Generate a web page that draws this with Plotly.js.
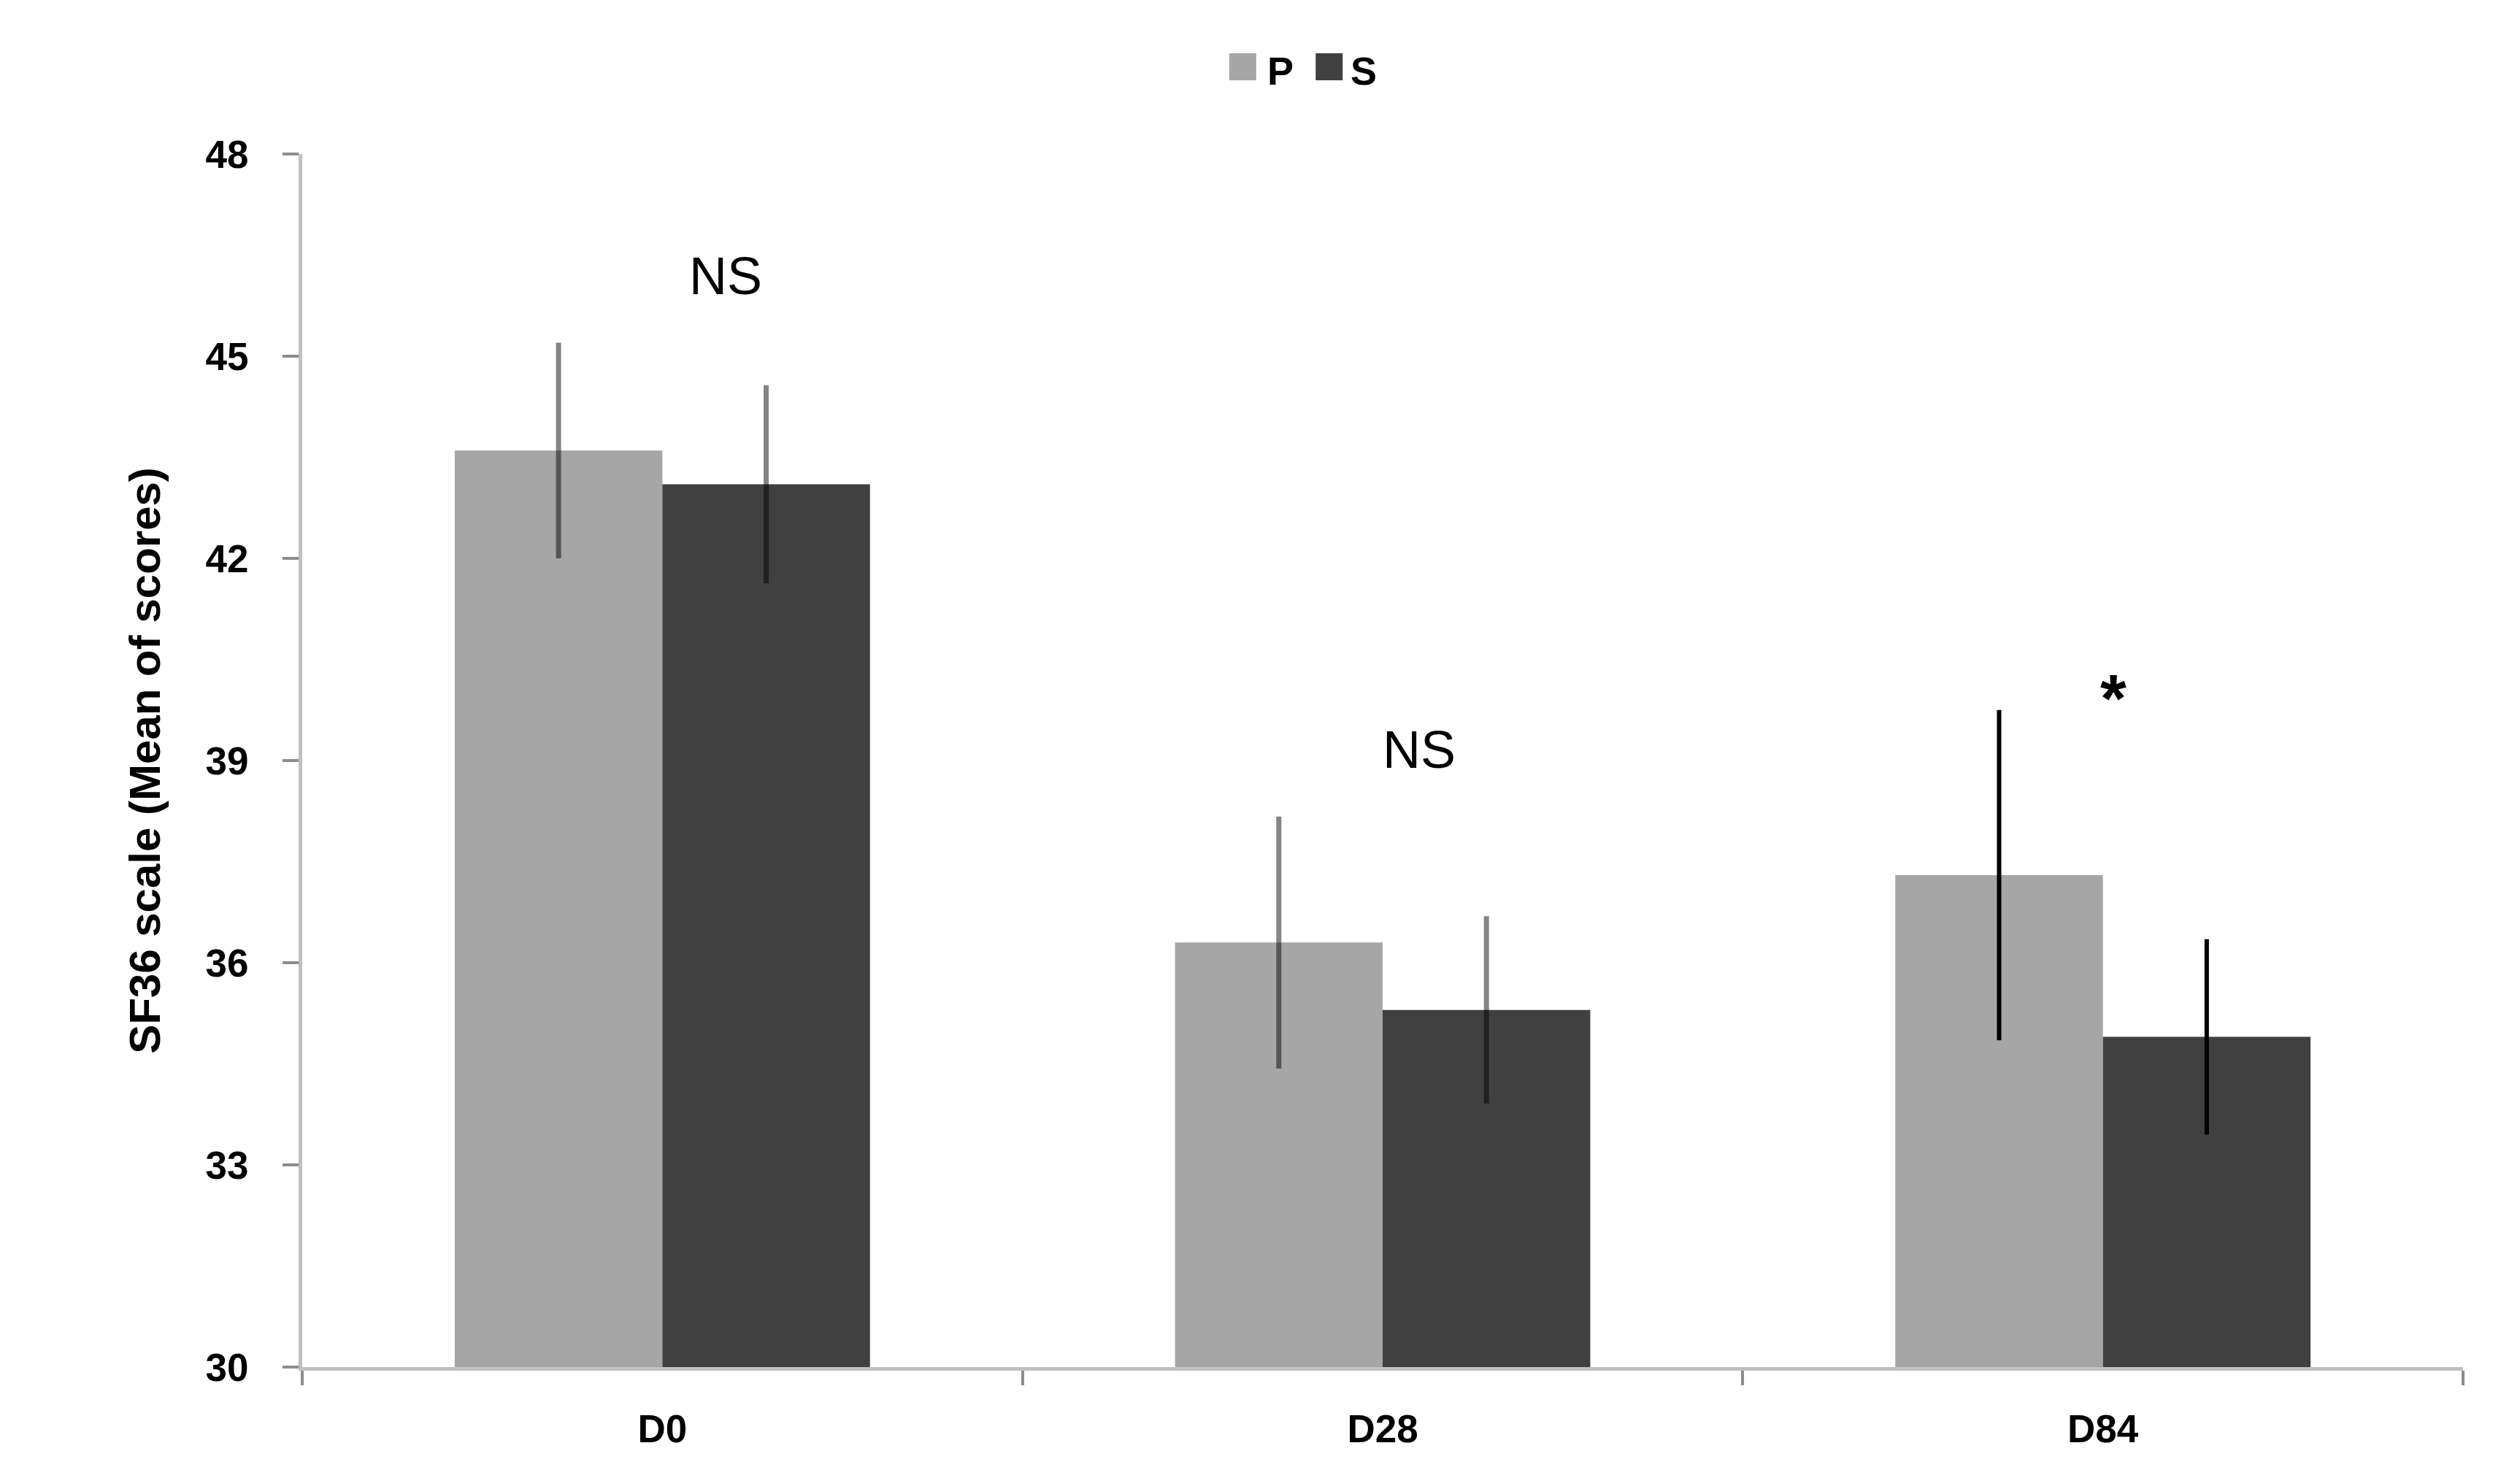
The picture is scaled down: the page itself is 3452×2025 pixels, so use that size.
<!DOCTYPE html>
<html>
<head>
<meta charset="utf-8">
<script src="https://cdn.plot.ly/plotly-3.0.1.min.js"></script>
<style>
  html, body { margin: 0; padding: 0; background: #fff; }
  #sf36_plot { width: 3452px; height: 2025px; }
</style>
</head>
<body>
<div id="sf36_plot"></div>
<script>
// SF36 scores, P vs S groups, by visit
var categories = ['D0', 'D28', 'D84'];
var pMeans = [43.6, 36.3, 37.3];
var sMeans = [43.1, 35.3, 34.9];
var pErr = [1.6, 1.87, 2.45];
var sErr = [1.47, 1.39, 1.45];
var sigLabels = ['NS', 'NS', '*'];
var seriesNames = ['P', 'S'];

var colP = '#a6a6a6';
var colS = '#404040';
var errGrey = 'rgba(0,0,0,0.48)';

// D84 has black error bars, the others are greyish: split them off
function upTo(arr, n) {
    return arr.map(function (v, i) { return i < n ? v : 0; });
}

function drawSF36() {
    var data = [];

    data.push({
        type: 'bar', name: seriesNames[0], x: categories, y: pMeans,
        offsetgroup: 'P', marker: { color: colP },
        error_y: { type: 'data', array: upTo(pErr, 2), width: 0, thickness: 7, color: errGrey },
        showlegend: false
    });
    data.push({
        type: 'bar', name: seriesNames[1], x: categories, y: sMeans,
        offsetgroup: 'S', marker: { color: colS },
        error_y: { type: 'data', array: upTo(sErr, 2), width: 0, thickness: 7, color: errGrey },
        showlegend: false
    });
    // overlay traces carrying the D84 error bars only
    data.push({
        type: 'bar', x: categories.slice(2), y: pMeans.slice(2),
        offsetgroup: 'P', marker: { color: 'rgba(0,0,0,0)' },
        error_y: { type: 'data', array: pErr.slice(2), width: 0, thickness: 6, color: '#000' },
        showlegend: false, hoverinfo: 'skip'
    });
    data.push({
        type: 'bar', x: categories.slice(2), y: sMeans.slice(2),
        offsetgroup: 'S', marker: { color: 'rgba(0,0,0,0)' },
        error_y: { type: 'data', array: sErr.slice(2), width: 0, thickness: 6, color: '#000' },
        showlegend: false, hoverinfo: 'skip'
    });

    var annotations = [];
    var xshifts = [87, 50, 14];
    for (var i = 0; i < categories.length; i++) {
        var top = Math.max(pMeans[i] + pErr[i], sMeans[i] + sErr[i]);
        var star = sigLabels[i] === '*';
        annotations.push({
            x: categories[i], y: top, xref: 'x', yref: 'y',
            text: sigLabels[i], showarrow: false,
            xanchor: 'center', yanchor: 'middle',
            xshift: xshifts[i], yshift: star ? 16 : 92,
            font: star ? { family: 'Liberation Sans, Arial, sans-serif', size: 92, color: '#000', weight: 'bold' }
                       : { family: 'Liberation Sans Narrow, Arial Narrow, sans-serif', size: 72, color: '#000' }
        });
    }

    // hand-made legend at the top, Excel style
    var shapes = [
        { type: 'rect', xref: 'paper', yref: 'paper', x0: 0.4290, x1: 0.4415, y0: 1.0608, y1: 1.0830,
          fillcolor: colP, line: { width: 0 } },
        { type: 'rect', xref: 'paper', yref: 'paper', x0: 0.4690, x1: 0.4815, y0: 1.0608, y1: 1.0830,
          fillcolor: colS, line: { width: 0 } }
    ];
    var legFont = { family: 'Liberation Sans Narrow, Arial Narrow, sans-serif', size: 54, color: '#000', weight: 'bold' };
    annotations.push({ xref: 'paper', yref: 'paper', x: 0.4528, y: 1.0685, text: seriesNames[0],
        showarrow: false, xanchor: 'center', yanchor: 'middle', font: legFont });
    annotations.push({ xref: 'paper', yref: 'paper', x: 0.4912, y: 1.0685, text: seriesNames[1],
        showarrow: false, xanchor: 'center', yanchor: 'middle', font: legFont });

    var tickFont = { family: 'Liberation Sans, Arial, sans-serif', size: 53, color: '#000', weight: 'bold' };

    var layout = {
        width: 3452, height: 2025,
        margin: { l: 414, r: 78, t: 211, b: 152, pad: 0 },
        paper_bgcolor: '#fff', plot_bgcolor: '#fff',
        barmode: 'group', bargap: 0.4235, bargroupgap: 0,
        showlegend: false,
        xaxis: {
            type: 'category', showline: true, linecolor: '#c0c0c0', linewidth: 5,
            ticks: 'outside', tickson: 'boundaries', ticklen: 20, tickwidth: 4, tickcolor: '#8c8c8c',
            tickfont: tickFont, showgrid: false, zeroline: false, ticklabelstandoff: 34
        },
        yaxis: {
            range: [30, 48], dtick: 3, tick0: 30, showline: true, linecolor: '#c0c0c0', linewidth: 5,
            ticks: 'outside', ticklen: 22, tickwidth: 4, tickcolor: '#8c8c8c',
            tickfont: tickFont, showgrid: false, zeroline: false, ticklabelstandoff: 36,
            title: { text: 'SF36 scale (Mean of scores)', standoff: 44,
                     font: { family: 'Liberation Sans, Arial, sans-serif', size: 60, color: '#000', weight: 'bold' } }
        },
        shapes: shapes,
        annotations: annotations
    };

    Plotly.newPlot('sf36_plot', data, layout, { staticPlot: true });
}

drawSF36();
</script>
</body>
</html>
